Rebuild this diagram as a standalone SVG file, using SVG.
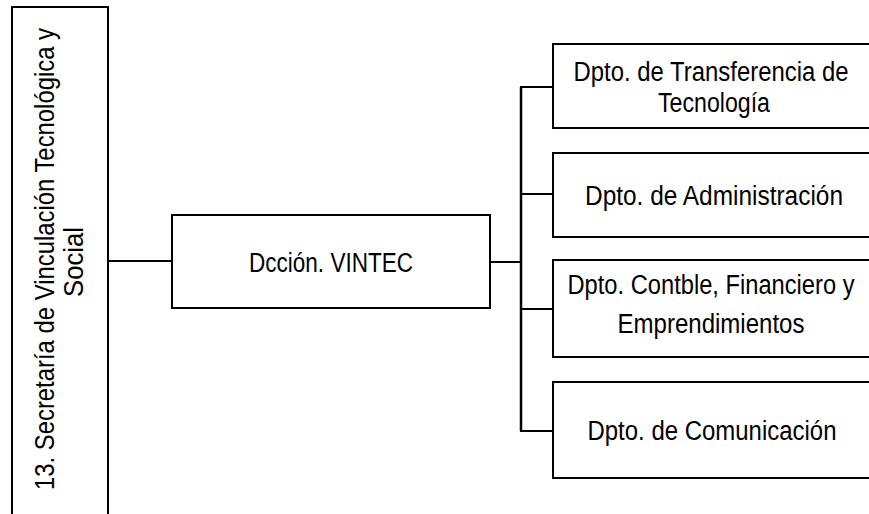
<svg xmlns="http://www.w3.org/2000/svg" width="869" height="514" viewBox="0 0 869 514">
<style>
.box{fill:#ffffff;stroke:#000000;stroke-width:2}
.ln{fill:none;stroke:#000000;stroke-width:2}
.bus{fill:none;stroke:#000000;stroke-width:2.5}
text{font-family:"Liberation Sans",Arial,sans-serif;font-size:27px;fill:#000000;text-anchor:middle}
</style>
<rect width="869" height="514" fill="#ffffff"/>
<g id="connectors">
<line class="ln" x1="108" y1="261" x2="172" y2="261"/>
<line class="ln" x1="490" y1="262" x2="521" y2="262"/>
<line class="bus" x1="521" y1="87" x2="521" y2="431"/>
<line class="ln" x1="520" y1="87" x2="553" y2="87"/>
<line class="ln" x1="520" y1="194" x2="553" y2="194"/>
<line class="ln" x1="520" y1="309" x2="553" y2="309"/>
<line class="ln" x1="520" y1="431" x2="553" y2="431"/>
</g>
<g id="node-secretaria">
<rect class="box" x="12" y="7" width="96" height="520"/>
<text transform="translate(54,259) rotate(-90)" textLength="462" lengthAdjust="spacingAndGlyphs">13. Secretaría de Vinculación Tecnológica y</text>
<text transform="translate(83,262) rotate(-90)" textLength="70" lengthAdjust="spacingAndGlyphs">Social</text>
</g>
<g id="node-vintec">
<rect class="box" x="172" y="215" width="318" height="93"/>
<text x="331" y="272" textLength="164" lengthAdjust="spacingAndGlyphs">Dcción. VINTEC</text>
</g>
<g id="node-transferencia">
<rect class="box" x="553" y="44" width="320" height="84"/>
<text x="711" y="81" textLength="275" lengthAdjust="spacingAndGlyphs">Dpto. de Transferencia de</text>
<text x="714" y="112" textLength="112" lengthAdjust="spacingAndGlyphs">Tecnología</text>
</g>
<g id="node-administracion">
<rect class="box" x="553" y="153" width="320" height="84"/>
<text x="714" y="205" textLength="258" lengthAdjust="spacingAndGlyphs">Dpto. de Administración</text>
</g>
<g id="node-contable">
<rect class="box" x="553" y="260" width="320" height="97"/>
<text x="711" y="294" textLength="287" lengthAdjust="spacingAndGlyphs">Dpto. Contble, Financiero y</text>
<text x="711" y="333" textLength="187" lengthAdjust="spacingAndGlyphs">Emprendimientos</text>
</g>
<g id="node-comunicacion">
<rect class="box" x="553" y="382" width="320" height="96"/>
<text x="712" y="440" textLength="249" lengthAdjust="spacingAndGlyphs">Dpto. de Comunicación</text>
</g>
</svg>
